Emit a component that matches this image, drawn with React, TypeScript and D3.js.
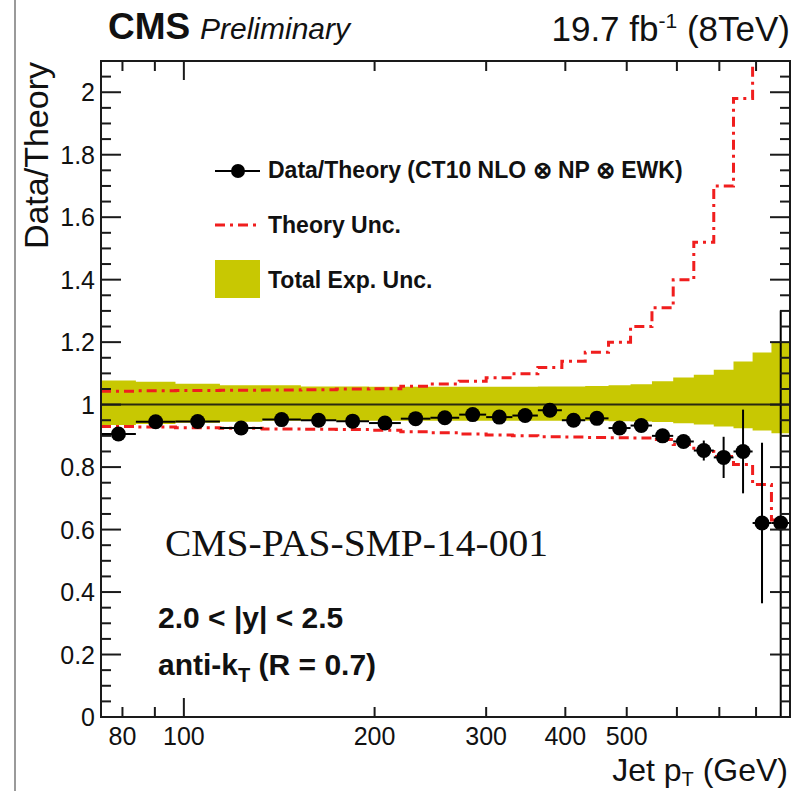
import React from "react";
import * as d3 from "d3";

// Jet pT bin edges (GeV), 2.0 < |y| < 2.5
const binEdges = [74, 84, 97, 114, 133, 153, 174, 196, 220, 245, 272, 300, 330, 362, 395, 430, 468, 507, 548, 592, 638, 686, 737, 790, 846, 905];

// Data / Theory ratio per bin
const ratio = [0.906, 0.945, 0.946, 0.925, 0.952, 0.95, 0.947, 0.941, 0.955, 0.958, 0.968, 0.96, 0.965, 0.982, 0.95, 0.956, 0.925, 0.933, 0.9, 0.882, 0.853, 0.831, 0.85, 0.621, 0.621];
// statistical uncertainty on the ratio
const statErr = [0.003, 0.003, 0.003, 0.003, 0.003, 0.003, 0.003, 0.003, 0.003, 0.003, 0.003, 0.003, 0.003, 0.004, 0.004, 0.005, 0.005, 0.006, 0.008, 0.012, 0.032, 0.066, 0.134, 0.257, 0.68];

// Total experimental uncertainty band (upper / lower edge)
const expUp = [1.077, 1.073, 1.067, 1.062, 1.062, 1.058, 1.058, 1.057, 1.057, 1.057, 1.057, 1.057, 1.057, 1.058, 1.058, 1.06, 1.062, 1.065, 1.075, 1.087, 1.096, 1.112, 1.138, 1.167, 1.2];
const expDown = [0.935, 0.938, 0.942, 0.945, 0.948, 0.948, 0.948, 0.948, 0.948, 0.948, 0.948, 0.948, 0.948, 0.948, 0.948, 0.948, 0.947, 0.946, 0.944, 0.94, 0.936, 0.93, 0.924, 0.917, 0.908];

// Theory uncertainty (upper / lower edge)
const theoryUp = [1.043, 1.044, 1.045, 1.046, 1.047, 1.048, 1.05, 1.051, 1.059, 1.066, 1.075, 1.086, 1.099, 1.119, 1.139, 1.168, 1.2, 1.25, 1.31, 1.4, 1.52, 1.7, 1.98, 2.45, 3.0];
const theoryDown = [0.93, 0.928, 0.926, 0.924, 0.922, 0.921, 0.92, 0.918, 0.913, 0.91, 0.906, 0.903, 0.9, 0.897, 0.896, 0.895, 0.894, 0.893, 0.888, 0.872, 0.85, 0.834, 0.808, 0.744, 0.631];

const yTickValues = [0, 0.2, 0.4, 0.6, 0.8, 1, 1.2, 1.4, 1.6, 1.8, 2];
const yTickLabels = ["0", "0.2", "0.4", "0.6", "0.8", "1", "1.2", "1.4", "1.6", "1.8", "2"];
const xTickValues = [80, 90, 100, 200, 300, 400, 500, 600, 700, 800];
const xMajorTicks = [100];
const xLabelValues = [80, 100, 200, 300, 400, 500];

const SANS = "'Liberation Sans', Arial, Helvetica, sans-serif";
const SERIF = "'Liberation Serif', 'Times New Roman', serif";
const YELLOW = "#c8c802";
const RED = "#f01e1e";
const DASHDOT = "10,5,3,5";

const W = 796;
const H = 791;
const L = 101, R = 790, T = 61, B = 717;

export default function App() {
  const x = d3.scaleLog().domain([74, 905]).range([L, R]);
  const y = d3.scaleLinear().domain([0, 2.1]).range([B, T]);

  const bins = ratio.map((v, i) => ({
    lo: binEdges[i],
    hi: binEdges[i + 1],
    center: Math.sqrt(binEdges[i] * binEdges[i + 1]),
    v,
    err: statErr[i],
    eu: expUp[i],
    ed: expDown[i],
    tu: theoryUp[i],
    td: theoryDown[i],
  }));

  // step data: one point per bin low edge, plus a closing point at the final edge
  const stepData = [...bins.map((b) => ({ e: b.lo, b })), { e: binEdges[binEdges.length - 1], b: bins[bins.length - 1] }];

  const band = d3
    .area<{ e: number; b: any }>()
    .x((d) => x(d.e))
    .y0((d) => y(d.b.ed))
    .y1((d) => y(d.b.eu))
    .curve(d3.curveStepAfter)(stepData) as string;

  const stepLine = (acc: (b: any) => number) =>
    d3
      .line<{ e: number; b: any }>()
      .x((d) => x(d.e))
      .y((d) => y(acc(d.b)))
      .curve(d3.curveStepAfter)(stepData) as string;

  const yMinor = d3.range(0, 2.1001, 0.05).filter((v) => Math.abs(v * 5 - Math.round(v * 5)) > 1e-6);

  return (
    <svg width={W} height={H} style={{ position: "absolute", left: 0, top: 0, background: "#fff" }}>
      <defs>
        <clipPath id="plotArea">
          <rect x={L} y={T} width={R - L} height={B - T} />
        </clipPath>
      </defs>
      <rect x={0} y={0} width={W} height={H} fill="#fff" />
      <line x1={15} x2={15} y1={0} y2={H} stroke="#9a9a9a" strokeWidth={2} />

      <g clipPath="url(#plotArea)">
        <path d={band} fill={YELLOW} stroke="none" />
        <line x1={L} x2={R} y1={y(1)} y2={y(1)} stroke="#2a2a10" strokeWidth={2} />
        <path d={stepLine((b) => b.tu)} fill="none" stroke={RED} strokeWidth={3} strokeDasharray={DASHDOT} />
        <path d={stepLine((b) => b.td)} fill="none" stroke={RED} strokeWidth={3} strokeDasharray={DASHDOT} />
        {bins.map((b, i) => (
          <g key={i}>
            <line x1={x(b.lo)} x2={x(b.hi)} y1={y(b.v)} y2={y(b.v)} stroke="#000" strokeWidth={2} />
            <line x1={x(b.center)} x2={x(b.center)} y1={y(b.v + b.err)} y2={y(Math.max(b.v - b.err, -0.1))} stroke="#000" strokeWidth={2} />
            <circle cx={x(b.center)} cy={y(b.v)} r={7.5} fill="#000" />
          </g>
        ))}
      </g>

      {/* frame */}
      <rect x={L} y={T} width={R - L} height={B - T} fill="none" stroke="#1a1a1a" strokeWidth={2} />

      {/* y ticks, left and right */}
      {yTickValues.map((v, i) => (
        <g key={"ym" + i}>
          <line x1={L} x2={L + 20} y1={y(v)} y2={y(v)} stroke="#1a1a1a" strokeWidth={2} />
          <line x1={R - 20} x2={R} y1={y(v)} y2={y(v)} stroke="#1a1a1a" strokeWidth={2} />
          <text x={95} y={y(v)} dy="0.36em" textAnchor="end" fontFamily={SANS} fontSize={25} fill="#111">
            {yTickLabels[i]}
          </text>
        </g>
      ))}
      {yMinor.map((v, i) => (
        <g key={"yn" + i}>
          <line x1={L} x2={L + 10} y1={y(v)} y2={y(v)} stroke="#1a1a1a" strokeWidth={2} />
          <line x1={R - 10} x2={R} y1={y(v)} y2={y(v)} stroke="#1a1a1a" strokeWidth={2} />
        </g>
      ))}

      {/* x ticks, bottom and top */}
      {xTickValues.map((v, i) => {
        const len = xMajorTicks.includes(v) ? 19 : 10;
        return (
          <g key={"xt" + i}>
            <line x1={x(v)} x2={x(v)} y1={B} y2={B - len} stroke="#1a1a1a" strokeWidth={2} />
            <line x1={x(v)} x2={x(v)} y1={T} y2={T + len} stroke="#1a1a1a" strokeWidth={2} />
          </g>
        );
      })}
      {xLabelValues.map((v, i) => (
        <text key={"xl" + i} x={x(v)} y={745} textAnchor="middle" fontFamily={SANS} fontSize={25} fill="#111">
          {String(v)}
        </text>
      ))}

      {/* axis titles */}
      <text x={788} y={781} textAnchor="end" fontFamily={SANS} fontSize={32} fill="#111">
        Jet p
        <tspan fontSize={20} dy={5}>T</tspan>
        <tspan dy={-5}> (GeV)</tspan>
      </text>
      <text transform={`translate(48, ${T + 1}) rotate(-90)`} textAnchor="end" fontFamily={SANS} fontSize={34} fill="#111">
        Data/Theory
      </text>

      {/* header */}
      <text x={108} y={39} fontFamily={SANS} fontSize={37} fontWeight="bold" fill="#111">
        CMS
      </text>
      <text x={200} y={39} fontFamily={SANS} fontSize={30} fontStyle="italic" fill="#111">
        Preliminary
      </text>
      <text x={790} y={41} textAnchor="end" fontFamily={SANS} fontSize={35} fill="#111">
        19.7 fb
        <tspan fontSize={21} dy={-13}>-1</tspan>
        <tspan dy={13}> (8TeV)</tspan>
      </text>

      {/* legend */}
      <line x1={215} x2={260} y1={171} y2={171} stroke="#000" strokeWidth={2} />
      <circle cx={238} cy={171} r={7} fill="#000" />
      <text x={268} y={178} fontFamily={SANS} fontSize={23} fontWeight="bold" fill="#111">
        Data/Theory (CT10 NLO ⊗ NP ⊗ EWK)
      </text>
      <line x1={215} x2={260} y1={225} y2={225} stroke={RED} strokeWidth={3} strokeDasharray={DASHDOT} />
      <text x={268} y={233} fontFamily={SANS} fontSize={23} fontWeight="bold" fill="#111">
        Theory Unc.
      </text>
      <rect x={215} y={260} width={45} height={38} fill={YELLOW} />
      <text x={268} y={288} fontFamily={SANS} fontSize={23} fontWeight="bold" fill="#111">
        Total Exp. Unc.
      </text>

      {/* annotations */}
      <text x={165} y={556} fontFamily={SERIF} fontSize={37} textLength={383} lengthAdjust="spacingAndGlyphs" fill="#111">
        CMS-PAS-SMP-14-001
      </text>
      <text x={158} y={628} fontFamily={SANS} fontSize={30} fontWeight="bold" fill="#111">
        2.0 &lt; |y| &lt; 2.5
      </text>
      <text x={158} y={675} fontFamily={SANS} fontSize={30} fontWeight="bold" fill="#111">
        anti-k
        <tspan fontSize={20} dy={7}>T</tspan>
        <tspan dy={-7}> (R = 0.7)</tspan>
      </text>
    </svg>
  );
}
